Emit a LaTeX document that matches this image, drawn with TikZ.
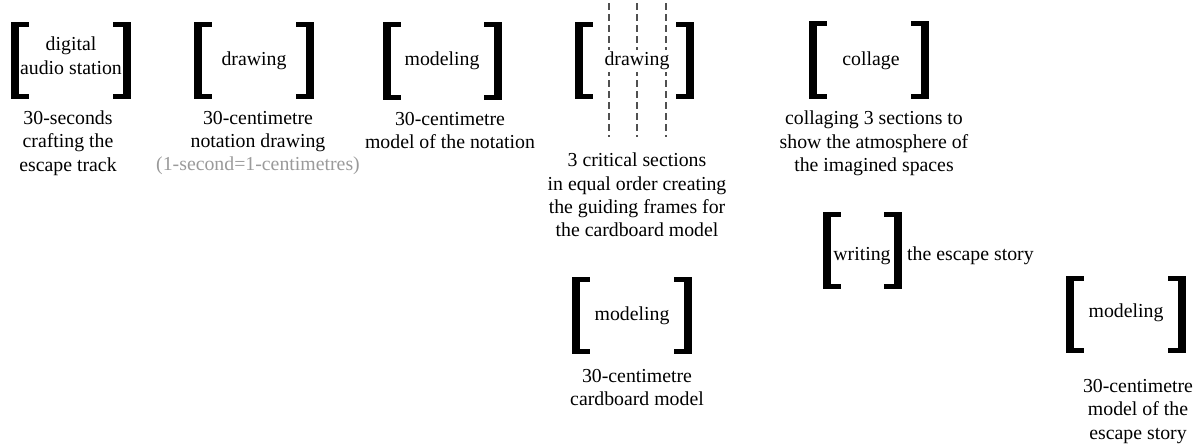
\documentclass[tikz,border=0pt]{standalone}
\usepackage{fontspec}
\setmainfont{Liberation Serif}
\usetikzlibrary{calc}
\definecolor{graytxt}{HTML}{9A9A9A}
\definecolor{dashgray}{HTML}{505050}
\newcommand\drawbrackets[1]{%
  \fill (#1.north west) rectangle ($(#1.south west)+(8,0)$);
  \fill (#1.north west) rectangle ($(#1.north west)+(18,5)$);
  \fill (#1.south west) rectangle ($(#1.south west)+(18,-5)$);
  \fill (#1.north east) rectangle ($(#1.south east)+(-8,0)$);
  \fill (#1.north east) rectangle ($(#1.north east)+(-18,5)$);
  \fill (#1.south east) rectangle ($(#1.south east)+(-18,-5)$);
}
\tikzset{
  bbox/.style={inner sep=0pt, minimum width=120pt, minimum height=77pt},
  intext/.style={inner sep=0pt, anchor=base, align=center},
  lbl/.style={inner sep=0pt, align=center},
  secline/.style={draw=dashgray, line width=1.1pt, dash pattern=on 7pt off 4pt},
}
\begin{document}
\begin{tikzpicture}[x=1pt,y=-1pt,font=\fontsize{19.8}{23.4}\selectfont]
\useasboundingbox (0,0) rectangle (1203,447);
% section lines
\coordinate (s1t) at (609,3);  \coordinate (s1b) at (609,137);
\coordinate (s2t) at (637,3);  \coordinate (s2b) at (637,137);
\coordinate (s3t) at (666,3);  \coordinate (s3b) at (666,137);
\draw[secline] (s1t) -- (s1b);
\draw[secline] (s2t) -- (s2b);
\draw[secline] (s3t) -- (s3b);

% bracket frames
\node[bbox] (b1) at (71,60.5) {};
\node[bbox] (b2) at (254,60.5) {};
\node[bbox, minimum width=119pt] (b3) at (442.5,61) {};
\node[bbox, minimum width=119pt] (b4) at (634.5,60.5) {};
\node[bbox] (b5) at (869,60) {};
\node[bbox, minimum width=79pt] (b6) at (862.5,250.5) {};
\node[bbox] (b7) at (1126,314.5) {};
\node[bbox] (b8) at (632,315.5) {};
\drawbrackets{b1}
\drawbrackets{b2}
\drawbrackets{b3}
\drawbrackets{b4}
\drawbrackets{b5}
\drawbrackets{b6}
\drawbrackets{b7}
\drawbrackets{b8}

% texts inside the brackets
\node[intext] (t1) at (71,74.3) {digital\\audio station};
\node[intext] (t2) at (254,65.7) {drawing};
\node[intext] (t3) at (442,65.7) {modeling};
\node[intext, fill=white, inner sep=2pt] (t4) at (637,65.7) {drawing};
\node[intext] (t5) at (871,65.7) {collage};
\node[intext] (t6) at (862,260) {writing};
\node[intext] (t7) at (1126,317) {modeling};
\node[intext] (t8) at (632,320.5) {modeling};

% captions
\node[lbl] (l1) at (68,143) {30-seconds\\crafting the\\escape track};
\node[lbl] (l2) at (258,143) {30-centimetre\\notation drawing\\\textcolor{graytxt}{(1-second=1-centimetres)}};
\node[lbl] (l3) at (450,130.5) {30-centimetre\\model of the notation};
\node[lbl] (l4) at (637,195) {3 critical sections\\in equal order creating\\the guiding frames for\\the cardboard model};
\node[lbl] (l5) at (874,143.5) {collaging 3 sections to\\show the atmosphere of\\the imagined spaces};
\node[inner sep=0pt, anchor=base west] (l6) at (907,260) {the escape story};
\node[lbl] (l7) at (1138,411.5) {30-centimetre\\model of the\\escape story};
\node[lbl] (l8) at (637,387.5) {30-centimetre\\cardboard model};
\end{tikzpicture}
\end{document}
